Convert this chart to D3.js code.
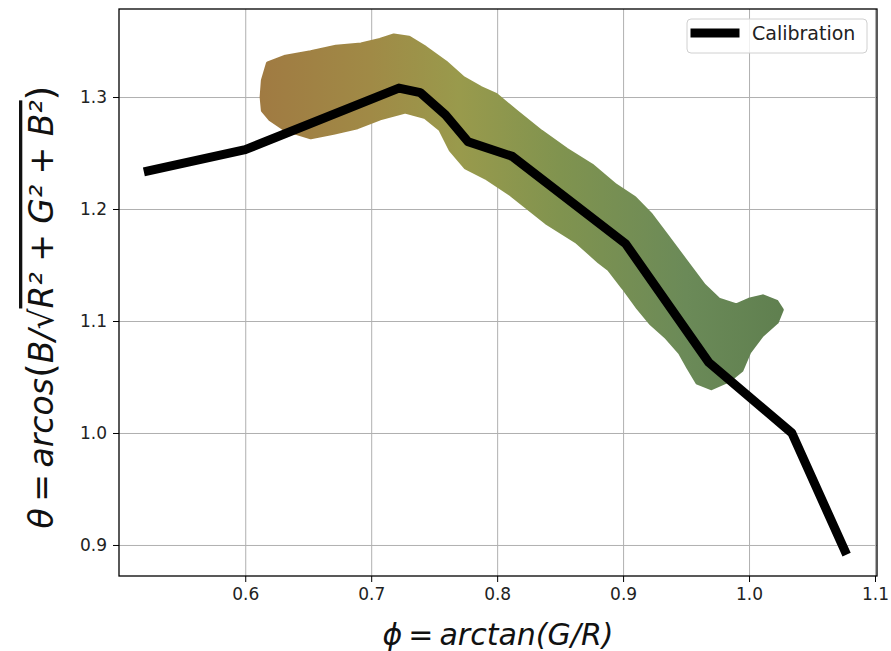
<!DOCTYPE html>
<html>
<head>
<meta charset="utf-8">
<script src="https://cdn.jsdelivr.net/npm/d3@7"></script>
<style>
  body { margin: 0; background: #fff; }
  text { font-family: "DejaVu Sans", sans-serif; }
</style>
</head>
<body>
<svg id="plot" width="891" height="651"></svg>
<script>
// tick values
var xTicks = [0.6, 0.7, 0.8, 0.9, 1.0, 1.1];
var yTicks = [0.9, 1.0, 1.1, 1.2, 1.3];

// calibration curve
var calibPhi   = [0.523, 0.600, 0.722, 0.739, 0.759, 0.777, 0.812, 0.902, 0.968, 1.034, 1.076];
var calibTheta = [1.234, 1.253, 1.308, 1.304, 1.284, 1.260, 1.247, 1.169, 1.063, 1.000, 0.895];

// outline of the measured point cloud (upper edge then lower edge)
var cloudPhi = [0.614, 0.618, 0.632, 0.652, 0.672, 0.692, 0.707, 0.718, 0.730, 0.743, 0.759, 0.773,
  0.787, 0.799, 0.815, 0.835, 0.855, 0.875, 0.894, 0.909, 0.922, 0.934, 0.950, 0.964, 0.976, 0.990,
  1.000, 1.011, 1.022, 1.026,
  1.022, 1.010, 1.000, 0.994, 0.984, 0.970, 0.959, 0.952, 0.945, 0.934, 0.922, 0.911, 0.900, 0.889,
  0.881, 0.863, 0.839, 0.811, 0.791, 0.775, 0.763, 0.755, 0.743, 0.727, 0.707, 0.689, 0.670, 0.652,
  0.632, 0.620, 0.614, 0.613];
var cloudTheta = [1.315, 1.330, 1.336, 1.340, 1.345, 1.347, 1.351, 1.355, 1.353, 1.344, 1.331, 1.317,
  1.308, 1.302, 1.287, 1.269, 1.253, 1.239, 1.221, 1.210, 1.195, 1.177, 1.153, 1.132, 1.119, 1.114,
  1.119, 1.122, 1.117, 1.110,
  1.099, 1.087, 1.072, 1.056, 1.047, 1.040, 1.045, 1.058, 1.072, 1.086, 1.098, 1.113, 1.130, 1.146,
  1.153, 1.171, 1.188, 1.213, 1.228, 1.237, 1.253, 1.271, 1.282, 1.287, 1.281, 1.273, 1.268, 1.264,
  1.271, 1.280, 1.288, 1.300];

// colour of the cloud along phi
var cloudColorPhi = [0.61, 0.70, 0.77, 0.85, 0.95, 1.03];
var cloudColors   = ["#a07a42", "#a08a46", "#999a4c", "#80934f", "#6b8a58", "#5f7f4f"];

var svg = d3.select("#plot"),
    margin = {top: 9, right: 14, bottom: 75, left: 119},
    width = +svg.attr("width") - margin.left - margin.right,
    height = +svg.attr("height") - margin.top - margin.bottom;

var g = svg.append("g").attr("transform", "translate(" + margin.left + "," + margin.top + ")");

var x = d3.scaleLinear().domain([0.49976, 1.1016]).range([0, width]);
var y = d3.scaleLinear().domain([0.8723, 1.3786]).range([height, 0]);

// gradient for the cloud
var grad = svg.append("defs").append("linearGradient")
  .attr("id", "cloudGrad")
  .attr("gradientUnits", "userSpaceOnUse")
  .attr("x1", x(cloudColorPhi[0])).attr("y1", 0)
  .attr("x2", x(cloudColorPhi[cloudColorPhi.length - 1])).attr("y2", 0);
grad.selectAll("stop")
  .data(cloudColorPhi)
  .enter().append("stop")
  .attr("offset", function (d) {
    return (x(d) - x(cloudColorPhi[0])) / (x(cloudColorPhi[cloudColorPhi.length - 1]) - x(cloudColorPhi[0]));
  })
  .attr("stop-color", function (d, i) { return cloudColors[i]; });

// grid
g.append("g")
  .attr("transform", "translate(0," + height + ")")
  .call(d3.axisBottom(x).tickValues(xTicks).tickSize(-height).tickFormat(""))
  .call(function (a) { a.select(".domain").remove(); })
  .selectAll("line").attr("stroke", "#b0b0b0").attr("stroke-width", 1);

g.append("g")
  .call(d3.axisLeft(y).tickValues(yTicks).tickSize(-width).tickFormat(""))
  .call(function (a) { a.select(".domain").remove(); })
  .selectAll("line").attr("stroke", "#b0b0b0").attr("stroke-width", 1);

// point cloud
var cloud = d3.range(cloudPhi.length).map(function (i) { return [cloudPhi[i], cloudTheta[i]]; });
g.append("path")
  .datum(cloud)
  .attr("d", d3.line().x(d => x(d[0])).y(d => y(d[1])).curve(d3.curveLinearClosed))
  .attr("fill", "url(#cloudGrad)")
  .attr("stroke", "url(#cloudGrad)")
  .attr("stroke-width", 4)
  .attr("stroke-linejoin", "round");

// calibration line
var calib = d3.range(calibPhi.length).map(function (i) { return [calibPhi[i], calibTheta[i]]; });
g.append("path")
  .datum(calib)
  .attr("d", d3.line().x(d => x(d[0])).y(d => y(d[1])))
  .attr("fill", "none")
  .attr("stroke", "#000")
  .attr("stroke-width", 9)
  .attr("stroke-linejoin", "round")
  .attr("stroke-linecap", "square");

// axes
var xAxis = g.append("g")
  .attr("transform", "translate(0," + height + ")")
  .call(d3.axisBottom(x).tickValues(xTicks).tickSize(6).tickPadding(6).tickFormat(d3.format(".1f")));
var yAxis = g.append("g")
  .call(d3.axisLeft(y).tickValues(yTicks).tickSize(6).tickPadding(6).tickFormat(d3.format(".1f")));
[xAxis, yAxis].forEach(function (a) {
  a.select(".domain").remove();
  a.selectAll("text").style("font-size", "17px").attr("fill", "#222");
  a.selectAll("line").attr("stroke", "#000");
});

// frame
g.append("rect")
  .attr("width", width).attr("height", height)
  .attr("fill", "none").attr("stroke", "#000").attr("stroke-width", 1.3);

// axis labels
svg.append("text")
  .attr("x", margin.left + width / 2)
  .attr("y", 645)
  .attr("text-anchor", "middle")
  .style("font-size", "30px")
  .style("font-style", "italic")
  .attr("fill", "#111")
  .text("ϕ\u2009=\u2009arctan(G/R)");

var yl = svg.append("text")
  .attr("transform", "translate(53,307) rotate(-90)")
  .attr("text-anchor", "middle")
  .style("font-size", "33px")
  .style("font-style", "italic")
  .attr("fill", "#111");
yl.append("tspan").text("θ\u2009=\u2009arcos");
yl.append("tspan").style("font-size", "38px").style("font-style", "normal").text("(");
yl.append("tspan").text("B/√");
yl.append("tspan").style("text-decoration", "overline").text("R² + G² + B²");
yl.append("tspan").style("font-size", "38px").style("font-style", "normal").text(")");

// legend
var leg = g.append("g").attr("transform", "translate(" + (width - 190) + ",10)");
leg.append("rect")
  .attr("width", 180).attr("height", 34).attr("rx", 4)
  .attr("fill", "#fff").attr("fill-opacity", 0.8)
  .attr("stroke", "#d0d0d0");
leg.append("line")
  .attr("x1", 8).attr("x2", 48).attr("y1", 14).attr("y2", 14)
  .attr("stroke", "#000").attr("stroke-width", 9).attr("stroke-linecap", "square");
leg.append("text")
  .attr("x", 65).attr("y", 14).attr("dy", "0.35em")
  .style("font-size", "19px").attr("fill", "#222")
  .text("Calibration");
</script>
</body>
</html>
